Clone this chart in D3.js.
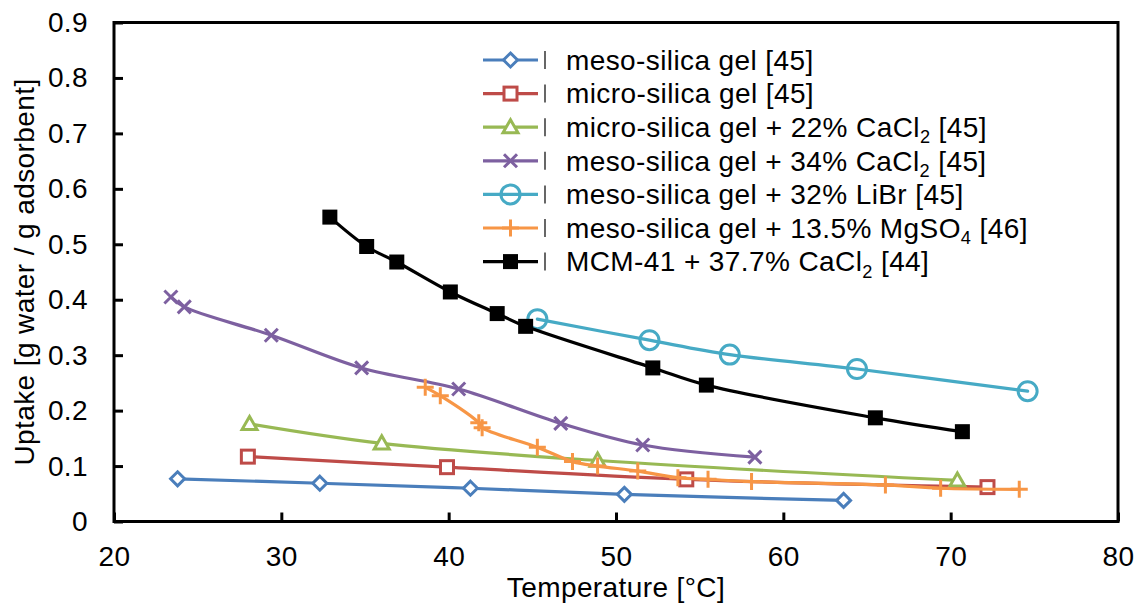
<!DOCTYPE html>
<html>
<head>
<meta charset="utf-8">
<script src="https://cdn.jsdelivr.net/npm/d3@7"></script>
<style>
  html, body { margin: 0; padding: 0; background: #fff; }
  svg { display: block; }
  text { font-family: "Liberation Sans", Arial, sans-serif; fill: #000; letter-spacing: 0.4px; }
</style>
</head>
<body>
<svg id="chart" width="1137" height="603"></svg>
<script>
// Water uptake vs. temperature for silica-gel based composite sorbents
const xTicks = [20, 30, 40, 50, 60, 70, 80];
const yTicks = [0, 0.1, 0.2, 0.3, 0.4, 0.5, 0.6, 0.7, 0.8, 0.9];

const mesoT = [23.8, 32.3, 41.3, 50.5, 63.6];
const mesoU = [0.077, 0.069, 0.060, 0.049, 0.038];

const microT = [28.0, 39.9, 54.2, 72.2];
const microU = [0.117, 0.098, 0.076, 0.062];

const microCaT = [28.1, 36.0, 48.9, 70.4];
const microCaU = [0.176, 0.141, 0.110, 0.074];

const mesoCaT = [23.4, 24.2, 29.4, 34.8, 40.6, 46.7, 51.6, 58.3];
const mesoCaU = [0.405, 0.387, 0.336, 0.277, 0.239, 0.177, 0.138, 0.116];

const mesoLiBrT = [45.3, 52.0, 56.8, 64.4, 74.6];
const mesoLiBrU = [0.365, 0.327, 0.301, 0.275, 0.235];

const mesoMgT = [38.6, 39.5, 41.8, 42.0, 45.3, 47.4, 48.9, 51.3, 53.7, 55.5, 58.1, 66.1, 69.4, 74.1];
const mesoMgU = [0.242, 0.227, 0.178, 0.169, 0.134, 0.108, 0.100, 0.091, 0.079, 0.076, 0.072, 0.066, 0.060, 0.058];

const mcmT = [32.9, 35.1, 36.9, 40.1, 42.9, 44.6, 52.2, 55.4, 65.5, 70.7];
const mcmU = [0.549, 0.496, 0.468, 0.414, 0.375, 0.352, 0.277, 0.246, 0.187, 0.162];

const seriesNames = [
  ["meso-silica gel [45]"],
  ["micro-silica gel [45]"],
  ["micro-silica gel + 22% CaCl", "2", " [45]"],
  ["meso-silica gel + 34% CaCl", "2", " [45]"],
  ["meso-silica gel + 32% LiBr [45]"],
  ["meso-silica gel + 13.5% MgSO", "4", " [46]"],
  ["MCM-41 + 37.7% CaCl", "2", " [44]"]
];
const seriesColors = ["#4a7ebb", "#be4b48", "#98b954", "#7d60a0", "#46aac5", "#f79646", "#000000"];
const seriesMarkers = ["diamond", "square", "triangle", "cross", "circle", "plus", "filledSquare"];

const series = [
  [mesoT, mesoU], [microT, microU], [microCaT, microCaU], [mesoCaT, mesoCaU],
  [mesoLiBrT, mesoLiBrU], [mesoMgT, mesoMgU], [mcmT, mcmU]
].map(([t, u], i) => ({
  name: seriesNames[i],
  color: seriesColors[i],
  marker: seriesMarkers[i],
  points: t.map((v, j) => ({ t: v, u: u[j] }))
}));

const svg = d3.select("#chart");
const margin = { left: 114, right: 19, top: 22.5, bottom: 81.5 };
const W = 1137, H = 603;

const x = d3.scaleLinear().domain([20, 80]).range([margin.left, W - margin.right]);
const y = d3.scaleLinear().domain([0, 0.9]).range([H - margin.bottom, margin.top]);

const fontSize = 28;

// Plot frame
svg.append("rect")
  .attr("x", x(20)).attr("y", y(0.9))
  .attr("width", x(80) - x(20)).attr("height", y(0) - y(0.9))
  .attr("fill", "none").attr("stroke", "#000").attr("stroke-width", 3);

// Axes with inward ticks
const xAxis = d3.axisBottom(x).tickValues(xTicks).tickSize(-9).tickPadding(25).tickFormat(d3.format("d"));
const gx = svg.append("g").attr("transform", `translate(0,${y(0)})`).call(xAxis);
const yAxis = d3.axisLeft(y).tickValues(yTicks).tickSize(-9).tickPadding(26).tickFormat(d => d === 0 ? "0" : d3.format(".1f")(d));
const gy = svg.append("g").attr("transform", `translate(${x(20)},0)`).call(yAxis);

[gx, gy].forEach(g => {
  g.select(".domain").remove();
  g.selectAll(".tick line").attr("stroke", "#000").attr("stroke-width", 3);
  g.selectAll(".tick text").attr("font-size", fontSize).attr("font-family", "Liberation Sans, Arial, sans-serif").attr("fill", "#000");
});
gx.selectAll(".tick text").attr("dy", "0.71em");

// Axis titles
svg.append("text")
  .attr("x", (x(20) + x(80)) / 2).attr("y", 597)
  .attr("text-anchor", "middle").attr("font-size", fontSize)
  .text("Temperature [°C]");

svg.append("text")
  .attr("transform", `translate(34,${(y(0) + y(0.9)) / 2}) rotate(-90)`)
  .attr("text-anchor", "middle").attr("font-size", fontSize)
  .text("Uptake [g water / g adsorbent]");

// Marker drawing
function drawMarker(g, type, color, cx, cy) {
  const sw = 3;
  switch (type) {
    case "diamond": {
      const r = 7;
      g.append("path").attr("d", `M${cx},${cy - r}L${cx + r},${cy}L${cx},${cy + r}L${cx - r},${cy}Z`)
        .attr("fill", "#fff").attr("stroke", color).attr("stroke-width", sw);
      break;
    }
    case "square": {
      const r = 6.5;
      g.append("rect").attr("x", cx - r).attr("y", cy - r).attr("width", 2 * r).attr("height", 2 * r)
        .attr("fill", "#fff").attr("stroke", color).attr("stroke-width", sw);
      break;
    }
    case "filledSquare": {
      const r = 7.5;
      g.append("rect").attr("x", cx - r).attr("y", cy - r).attr("width", 2 * r).attr("height", 2 * r)
        .attr("fill", color).attr("stroke", "none");
      break;
    }
    case "triangle": {
      const r = 7.5;
      g.append("path").attr("d", `M${cx},${cy - r}L${cx + r},${cy + r * 0.75}L${cx - r},${cy + r * 0.75}Z`)
        .attr("fill", "#fff").attr("stroke", color).attr("stroke-width", sw);
      break;
    }
    case "cross": {
      const r = 6.5;
      g.append("path").attr("d", `M${cx - r},${cy - r}L${cx + r},${cy + r}M${cx - r},${cy + r}L${cx + r},${cy - r}`)
        .attr("fill", "none").attr("stroke", color).attr("stroke-width", sw);
      break;
    }
    case "circle": {
      g.append("circle").attr("cx", cx).attr("cy", cy).attr("r", 9.5)
        .attr("fill", "none").attr("stroke", color).attr("stroke-width", sw);
      break;
    }
    case "plus": {
      const r = 8.5;
      g.append("path").attr("d", `M${cx - r},${cy}L${cx + r},${cy}M${cx},${cy - r}L${cx},${cy + r}`)
        .attr("fill", "none").attr("stroke", color).attr("stroke-width", sw);
      break;
    }
  }
}

// Series lines and markers
const line = d3.line().x(d => x(d.t)).y(d => y(d.u)).curve(d3.curveCatmullRom.alpha(0.5));
const plot = svg.append("g");
series.forEach(s => {
  const g = plot.append("g");
  g.append("path").datum(s.points).attr("d", line)
    .attr("fill", "none").attr("stroke", s.color).attr("stroke-width", 3.2)
    .attr("stroke-linejoin", "round").attr("stroke-linecap", "round");
  s.points.forEach(p => drawMarker(g, s.marker, s.color, x(p.t), y(p.u)));
});

// Legend
const legend = svg.append("g");
const legendX0 = 483, legendX1 = 538, rowY0 = 60, rowStep = 33.6;
series.forEach((s, i) => {
  const cy = rowY0 + i * rowStep;
  legend.append("line").attr("x1", legendX0).attr("x2", legendX1).attr("y1", cy).attr("y2", cy)
    .attr("stroke", s.color).attr("stroke-width", 3.2);
  drawMarker(legend, s.marker, s.color, (legendX0 + legendX1) / 2, cy);
  legend.append("line").attr("x1", 545).attr("x2", 545).attr("y1", cy - 9).attr("y2", cy + 9)
    .attr("stroke", "#000").attr("stroke-width", 1.2);
  const t = legend.append("text").attr("x", 566).attr("y", cy).attr("dy", "0.35em").attr("font-size", fontSize);
  t.append("tspan").text(s.name[0]);
  if (s.name.length > 1) {
    t.append("tspan").attr("font-size", fontSize * 0.65).attr("dy", "0.35em").text(s.name[1]);
    t.append("tspan").attr("dy", `${-0.35 * 0.65}em`).text(s.name[2]);
  }
});
</script>
</body>
</html>
